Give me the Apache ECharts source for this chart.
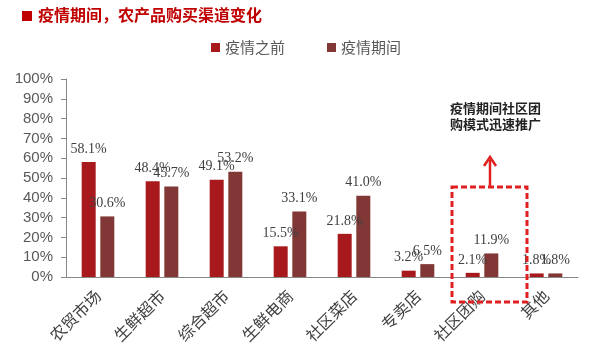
<!DOCTYPE html>
<html><head><meta charset="utf-8">
<script src="https://cdn.jsdelivr.net/npm/echarts@6/dist/echarts.min.js"></script>
<style>html,body{margin:0;padding:0;background:#fff}#c{width:600px;height:354px}</style>
</head><body><div id="c"></div>
<script>
const categories = ['农贸市场','生鲜超市','综合超市','生鲜电商','社区菜店','专卖店','社区团购','其他'];
const seriesNames = ['疫情之前','疫情期间'];
const before = [58.1, 48.4, 49.1, 15.5, 21.8, 3.2, 2.1, 1.8];
const during = [30.6, 45.7, 53.2, 33.1, 41.0, 6.5, 11.9, 1.8];
const yTicks = [0,10,20,30,40,50,60,70,80,90,100];

const chart = echarts.init(document.getElementById('c'), null, {renderer:'canvas'});
const labelStyle = {show:true, position:'top', distance:6, fontFamily:'Liberation Serif', fontSize:14, color:'#404040', formatter: p => p.value.toFixed(1)+'%'};
chart.setOption({
  animation:false,
  title:{text:'疫情期间，农产品购买渠道变化', left:33, top:2, textStyle:{fontFamily:'Noto Sans CJK SC', fontSize:16, fontWeight:'bold', color:'#C00000'}},
  legend:{data:seriesNames, left:206, top:35, itemWidth:9, itemHeight:9, icon:'rect', itemGap:42,
    textStyle:{fontFamily:'Noto Sans CJK SC', fontSize:15, color:'#595959'}},
  grid:{left:66, right:22, top:79, bottom:77},
  xAxis:{type:'category', data:categories,
    axisLine:{lineStyle:{color:'#888'}}, axisTick:{length:5, lineStyle:{color:'#888'}},
    axisLabel:{rotate:45, margin:16, fontFamily:'Noto Sans CJK SC', fontSize:16, color:'#404040'}},
  yAxis:{type:'value', min:yTicks[0], max:yTicks[yTicks.length-1], interval:10,
    axisLine:{show:true, lineStyle:{color:'#888'}}, axisTick:{show:true, length:5, lineStyle:{color:'#888'}},
    splitLine:{show:false},
    axisLabel:{margin:13, fontFamily:'Liberation Sans', fontSize:15, color:'#595959', formatter: v => v+'%'}},
  series:[
    {name:seriesNames[0], type:'bar', data:before, barWidth:14, barGap:'33%', itemStyle:{color:'#A8191D'}, label:labelStyle},
    {name:seriesNames[1], type:'bar', data:during, barWidth:14, barGap:'33%', itemStyle:{color:'#803735'}, label:labelStyle}
  ],
  graphic:[
    {type:'rect', shape:{x:22, y:11, width:10, height:10}, style:{fill:'#C00000'}},
    {type:'rect', shape:{x:452, y:187, width:75, height:115}, style:{fill:null, stroke:'#E02020', lineWidth:3, lineDash:[6,3]}, z:10},
    {type:'line', shape:{x1:490, y1:187, x2:490, y2:160}, style:{stroke:'#E02020', lineWidth:2.5}, z:10},
    {type:'polyline', shape:{points:[[484,166],[490,157],[496,166]]}, style:{fill:null, stroke:'#E02020', lineWidth:2.5}, z:10},
    {type:'text', x:450, y:100, style:{text:'疫情期间社区团\n购模式迅速推广', fontFamily:'Noto Sans CJK SC', fontSize:13, fontWeight:'bold', fill:'#222', lineHeight:16}}
  ]
});
</script></body></html>
